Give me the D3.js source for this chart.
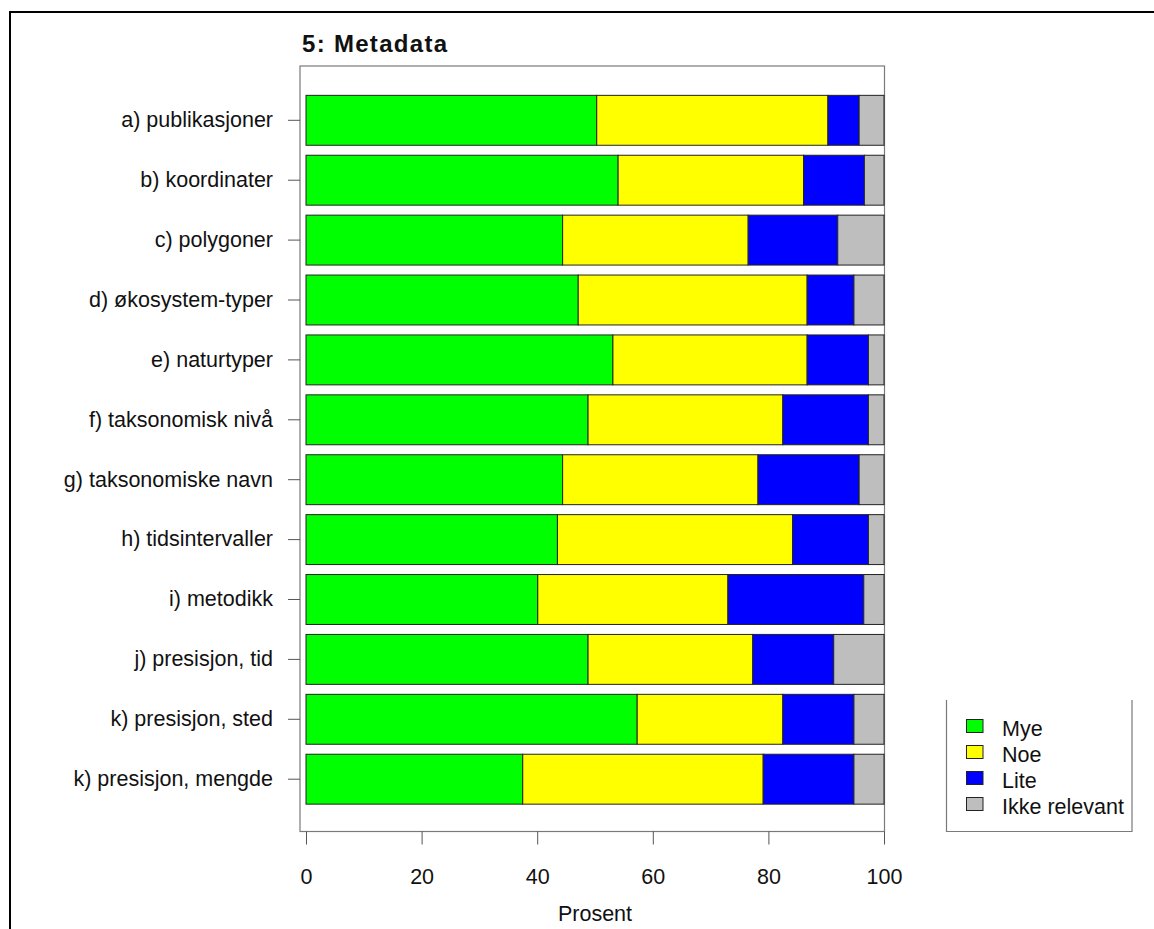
<!DOCTYPE html>
<html>
<head>
<meta charset="utf-8">
<script src="https://cdn.jsdelivr.net/npm/d3@7"></script>
<style>
  html, body { margin: 0; padding: 0; background: #fff; }
  svg { display: block; font-family: "Liberation Sans", Arial, sans-serif; }
</style>
</head>
<body>
<svg id="chart" width="1154" height="929"></svg>
<script>
const title = "5: Metadata";
const categories = [
  "a) publikasjoner",
  "b) koordinater",
  "c) polygoner",
  "d) økosystem-typer",
  "e) naturtyper",
  "f) taksonomisk nivå",
  "g) taksonomiske navn",
  "h) tidsintervaller",
  "i) metodikk",
  "j) presisjon, tid",
  "k) presisjon, sted",
  "k) presisjon, mengde"
];
const seriesNames = ["Mye", "Noe", "Lite", "Ikke relevant"];
const mye   = [50.3, 54.0, 44.4, 47.1, 53.1, 48.8, 44.4, 43.5, 40.1, 48.8, 57.3, 37.5];
const noe   = [40.0, 32.1, 32.1, 39.6, 33.6, 33.7, 33.8, 40.7, 32.9, 28.5, 25.2, 41.6];
const lite  = [5.4, 10.5, 15.5, 8.1, 10.6, 14.8, 17.5, 13.1, 23.5, 14.0, 12.3, 15.7];
const ikke  = [4.3, 3.4, 8.0, 5.2, 2.7, 2.7, 4.3, 2.7, 3.5, 8.7, 5.2, 5.2];
const colors = ["#00ff00", "#ffff00", "#0000ff", "#bebebe"];
const xTicks = [0, 20, 40, 60, 80, 100];
const xLabel = "Prosent";

const FS = 21.5;
const svg = d3.select("#chart");

// outer frame (top and left)
svg.append("line").attr("x1", 9).attr("x2", 1154).attr("y1", 12).attr("y2", 12)
  .attr("stroke", "#000").attr("stroke-width", 2);
svg.append("line").attr("x1", 10).attr("x2", 10).attr("y1", 11).attr("y2", 929)
  .attr("stroke", "#000").attr("stroke-width", 2);

const box = {left: 300, right: 884.5, top: 66, bottom: 831.5};

const x = d3.scaleLinear().domain([0, 100]).range([306, 884]);
const y = d3.scaleBand().domain(categories)
  .range([65.4, 834.1]).paddingInner(1/6).paddingOuter(0.5);

const rows = categories.map((c, i) => ({cat: c, Mye: mye[i], Noe: noe[i], Lite: lite[i], "Ikke relevant": ikke[i]}));
const stack = d3.stack().keys(seriesNames)(rows);

// plot box
svg.append("rect")
  .attr("x", box.left).attr("y", box.top)
  .attr("width", box.right - box.left).attr("height", box.bottom - box.top)
  .attr("fill", "none").attr("stroke", "#7a7a7a").attr("stroke-width", 1.2);

svg.append("g").selectAll("g").data(stack).join("g")
  .attr("fill", (d, i) => colors[i])
  .selectAll("rect").data(d => d).join("rect")
  .attr("x", d => x(d[0]))
  .attr("width", d => x(d[1]) - x(d[0]))
  .attr("y", d => y(d.data.cat))
  .attr("height", y.bandwidth())
  .attr("stroke", "#222").attr("stroke-width", 1);

// y axis
const yAxis = svg.append("g").attr("transform", `translate(${box.left},0)`)
  .call(d3.axisLeft(y).tickSize(12).tickPadding(15));
yAxis.select(".domain").remove();
yAxis.selectAll(".tick line").attr("stroke", "#555");
yAxis.selectAll(".tick text").attr("font-size", FS).attr("fill", "#111")
  .attr("font-family", "'Liberation Sans', Arial, sans-serif");

// x axis
const xAxis = svg.append("g").attr("transform", `translate(0,${box.bottom})`)
  .call(d3.axisBottom(x).tickValues(xTicks).tickSize(13).tickPadding(24).tickFormat(d3.format("d")));
xAxis.select(".domain").remove();
xAxis.selectAll(".tick line").attr("stroke", "#555");
xAxis.selectAll(".tick text").attr("font-size", FS).attr("fill", "#111")
  .attr("font-family", "'Liberation Sans', Arial, sans-serif");

svg.append("text").attr("x", (x(0) + x(100)) / 2).attr("y", 921)
  .attr("text-anchor", "middle").attr("font-size", FS).attr("fill", "#111")
  .text(xLabel);

// title
svg.append("text").attr("x", 302).attr("y", 52)
  .attr("font-size", 24).attr("font-weight", "bold").attr("letter-spacing", 1.3)
  .attr("fill", "#111").text(title);

// legend
const lg = {left: 946.5, right: 1132, top: 700, bottom: 831.5};
svg.append("path")
  .attr("d", `M${lg.left},${lg.top}V${lg.bottom}H${lg.right}V${lg.top}`)
  .attr("fill", "none").attr("stroke", "#7a7a7a").attr("stroke-width", 1.2);
const legendItems = svg.append("g").selectAll("g").data(seriesNames).join("g")
  .attr("transform", (d, i) => `translate(0,${728 + i * 26})`);
legendItems.append("rect").attr("x", 966.5).attr("y", -8.5).attr("width", 16.5).attr("height", 13)
  .attr("fill", (d, i) => colors[i]).attr("stroke", "#222").attr("stroke-width", 1);
legendItems.append("text").attr("x", 1002).attr("y", 7.5)
  .attr("font-size", FS).attr("fill", "#111").text(d => d);
</script>
</body>
</html>
